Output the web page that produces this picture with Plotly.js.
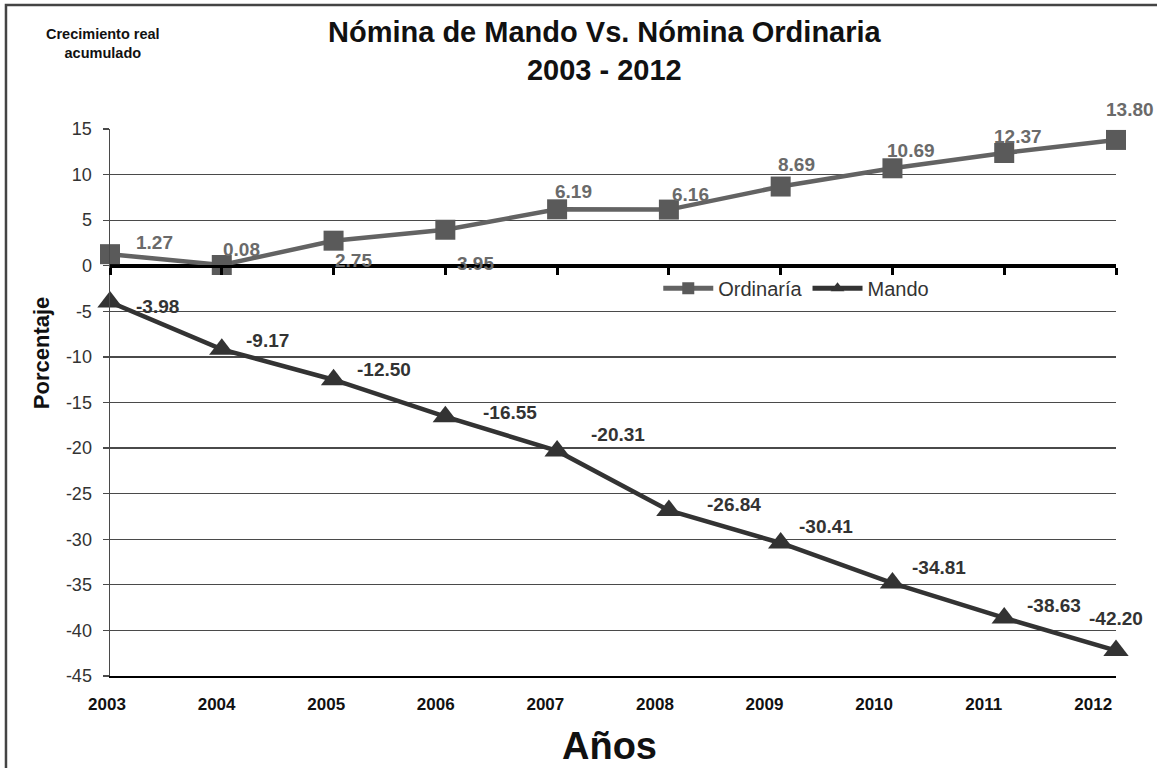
<!DOCTYPE html>
<html>
<head>
<meta charset="utf-8">
<script src="https://cdn.plot.ly/plotly-3.0.1.min.js"></script>
<style>html,body{margin:0;padding:0;background:#fff;}#chart{width:1157px;height:768px;}</style>
</head>
<body>
<div id="chart"></div>
<script>
// ---- data ----
const years = [2003, 2004, 2005, 2006, 2007, 2008, 2009, 2010, 2011, 2012];
const ordinaria = [1.27, 0.08, 2.75, 3.95, 6.19, 6.16, 8.69, 10.69, 12.37, 13.80];
const mando = [-3.98, -9.17, -12.50, -16.55, -20.31, -26.84, -30.41, -34.81, -38.63, -42.20];
const yearLabels = ['2003','2004','2005','2006','2007','2008','2009','2010','2011','2012'];
const yTickVals = [15, 10, 5, 0, -5, -10, -15, -20, -25, -30, -35, -40, -45];
const yTickText = ['15','10','5','0','-5','-10','-15','-20','-25','-30','-35','-40','-45'];

// label offsets in screen pixels (dx, dy down)
const ordOff = [[44,-12],[20,-16],[20,20],[30,34],[16,-18],[22,-15],[16,-22],[19,-18],[14,-16],[14,-30]];
const manOff = [[47,4],[46,-9],[50,-10],[65,-4],[61,-16],[65,-6],[45,-16],[47,-16],[50,-12],[0,-32]];

const FONT = 'Liberation Sans';

const traces = [
  {
    x: years, y: ordinaria, name: 'Ordinaría', type: 'scatter', mode: 'lines+markers',
    line: {color: '#636363', width: 4.5},
    marker: {symbol: 'square', size: 20, color: '#5a5a5a'},
    cliponaxis: false, hoverinfo: 'x+y'
  },
  {
    x: years, y: mando, name: 'Mando', type: 'scatter', mode: 'lines+markers',
    line: {color: '#333333', width: 4.5},
    marker: {symbol: 'triangle-up', size: 22, color: '#333333'},
    cliponaxis: false, hoverinfo: 'x+y'
  },
  {
    x: years, y: years.map(() => null), xaxis: 'x2', yaxis: 'y',
    type: 'scatter', mode: 'lines', showlegend: false, hoverinfo: 'skip'
  }
];

const annotations = [];
ordinaria.forEach((v, i) => {
  annotations.push({
    x: years[i], y: v, xref: 'x', yref: 'y', text: '<b>' + v.toFixed(2) + '</b>',
    showarrow: false, xshift: ordOff[i][0], yshift: -ordOff[i][1],
    font: {family: FONT, size: 19, color: '#6a6a6a'}
  });
});
mando.forEach((v, i) => {
  annotations.push({
    x: years[i], y: v, xref: 'x', yref: 'y', text: '<b>' + v.toFixed(2) + '</b>',
    showarrow: false, xshift: manOff[i][0], yshift: -manOff[i][1],
    font: {family: FONT, size: 19, color: '#333333'}
  });
});
annotations.push({
  xref: 'paper', yref: 'paper', x: 0.492, y: 1.1426, xanchor: 'center', yanchor: 'middle',
  text: '<b>Nómina de Mando Vs. Nómina Ordinaria<br>2003 - 2012</b>', showarrow: false,
  font: {family: FONT, size: 29, color: '#111'}
});
annotations.push({
  xref: 'paper', yref: 'paper', x: -0.007, y: 1.157, xanchor: 'center', yanchor: 'middle',
  text: '<b>Crecimiento real<br>acumulado</b>', showarrow: false,
  font: {family: FONT, size: 14.5, color: '#111'}
});
annotations.push({
  xref: 'paper', yref: 'paper', x: -0.0686, y: 0.592, xanchor: 'center', yanchor: 'middle',
  text: '<b>Porcentaje</b>', textangle: -90, showarrow: false,
  font: {family: FONT, size: 22, color: '#111'}
});
annotations.push({
  xref: 'paper', yref: 'paper', x: 0.497, y: -0.128, xanchor: 'center', yanchor: 'middle',
  text: '<b>Años</b>', showarrow: false,
  font: {family: FONT, size: 38, color: '#111'}
});

const layout = {
  width: 1157, height: 768,
  margin: {l: 110, r: 41, t: 129, b: 92},
  paper_bgcolor: '#ffffff', plot_bgcolor: '#ffffff',
  font: {family: FONT},
  showlegend: true,
  legend: {
    orientation: 'h', x: 0.545, y: 0.709, xanchor: 'left', yanchor: 'middle',
    bgcolor: 'rgba(0,0,0,0)', font: {family: FONT, size: 20, color: '#333'},
    itemsizing: 'constant', itemwidth: 50
  },
  xaxis: {
    type: 'linear', range: [2003, 2012], anchor: 'free', position: 0.75,
    showline: true, linecolor: '#000', linewidth: 3.5,
    ticks: 'outside', ticklen: 7, tickwidth: 3, tickcolor: '#000',
    tickmode: 'array', tickvals: years, showticklabels: false,
    showgrid: false, zeroline: false, fixedrange: true
  },
  xaxis2: {
    type: 'linear', overlaying: 'x', anchor: 'y', side: 'bottom',
    range: [2003, 2012.18],
    tickmode: 'array', tickvals: years, ticktext: yearLabels.map(s => '<b>' + s + '</b>'),
    tickfont: {family: FONT, size: 17, color: '#111'},
    ticks: '', ticklabelshift: -3, ticklabelstandoff: 12,
    showline: true, linecolor: '#000', linewidth: 2,
    showgrid: false, zeroline: false, fixedrange: true
  },
  yaxis: {
    range: [-45, 15], tickmode: 'array', tickvals: yTickVals, ticktext: yTickText,
    showgrid: true, gridcolor: '#4a4a4a', gridwidth: 1.2,
    showline: true, linecolor: '#4a4a4a', linewidth: 1.5,
    ticks: 'outside', ticklen: 6, tickcolor: '#4a4a4a', tickwidth: 1.2,
    tickfont: {family: FONT, size: 18, color: '#333'}, ticklabelstandoff: 7,
    zeroline: true, zerolinecolor: '#000', zerolinewidth: 3.5, fixedrange: true
  },
  annotations: annotations,
  shapes: [{
    type: 'rect', xref: 'paper', yref: 'paper',
    x0: -0.1034, x1: 1.3, y0: -0.4, y1: 1.2267,
    line: {color: '#444', width: 2.5}, fillcolor: 'rgba(0,0,0,0)', layer: 'above'
  }]
};

Plotly.newPlot('chart', traces, layout, {displayModeBar: false, staticPlot: true});
</script>
</body>
</html>
